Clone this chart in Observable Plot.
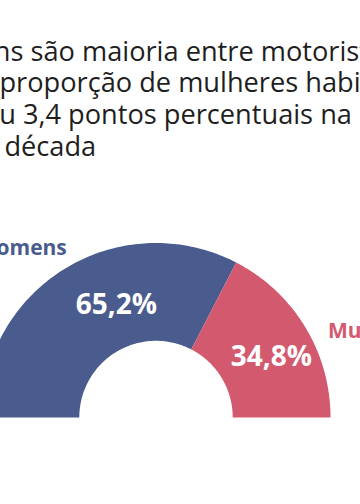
<!DOCTYPE html>
<html>
<head>
<meta charset="utf-8">
<script src="https://cdn.jsdelivr.net/npm/d3@7"></script>
<script src="https://cdn.jsdelivr.net/npm/@observablehq/plot@0.6"></script>
<style>
  html, body { margin: 0; padding: 0; background: #fff; width: 360px; height: 504px; overflow: hidden; position: relative; }
  #title { position: absolute; left: -83px; top: 34.6px; font-family: "Open Sans", sans-serif; font-size: 27.2px; line-height: 31.67px; color: #1e1e1e; white-space: nowrap; }
  #chart { position: absolute; left: 0; top: 200px; }
</style>
</head>
<body>
<div id="title"></div>
<div id="chart"></div>
<script>
const titleLines = [
  "Homens são maioria entre motoristas,",
  "mas a proporção de mulheres habilitadas",
  "já subiu 3,4 pontos percentuais na",
  "última década"
];
const categorias = ["Homens", "Mulheres"];
const percentuais = [65.2, 34.8];
const cores = ["#4a5b8e", "#d35a6e"];

document.getElementById("title").innerHTML = titleLines.join("<br>");

const R = 174.5, r0 = 76.7;
const total = d3.sum(percentuais);
let acc = 0;
const slices = categorias.map((c, i) => {
  const a0 = Math.PI - (acc / total) * Math.PI;
  acc += percentuais[i];
  const a1 = Math.PI - (acc / total) * Math.PI;
  return {cat: c, value: percentuais[i], a0, a1, mid: (a0 + a1) / 2};
});

const pts = [];
for (const s of slices) {
  const n = 120;
  for (let k = 0; k <= n; k++) {
    const a = s.a0 + (s.a1 - s.a0) * k / n;
    pts.push({cat: s.cat, x: R * Math.cos(a), y: R * Math.sin(a)});
  }
  for (let k = n; k >= 0; k--) {
    const a = s.a0 + (s.a1 - s.a0) * k / n;
    pts.push({cat: s.cat, x: r0 * Math.cos(a), y: r0 * Math.sin(a)});
  }
}

const rm = (R + r0) / 2;
const valLabels = slices.map(s => ({cat: s.cat, text: s.value.toFixed(1).replace(".", ",") + "%", x: rm * Math.cos(s.mid), y: rm * Math.sin(s.mid), left: s.mid > Math.PI / 2}));
const catLabels = slices.map(s => ({cat: s.cat, x: R * Math.cos(s.mid), y: R * Math.sin(s.mid), left: s.mid > Math.PI / 2}));

const chart = Plot.plot({
  width: 360,
  height: 260,
  margin: 0,
  style: {fontFamily: "Open Sans, sans-serif", background: "transparent"},
  x: {domain: [-155.5, 204.5], axis: null},
  y: {domain: [-43, 217], axis: null},
  color: {domain: categorias, range: cores},
  marks: [
    Plot.line(pts, {x: "x", y: "y", z: "cat", fill: "cat", stroke: null, curve: "linear"}),
    Plot.text(valLabels.filter(d => d.left), {x: "x", y: "y", text: "text", fill: "white", fontSize: 28, fontWeight: "bold", dx: 25.6, dy: -4.7}),
    Plot.text(valLabels.filter(d => !d.left), {x: "x", y: "y", text: "text", fill: "white", fontSize: 28, fontWeight: "bold", dx: 8, dy: 5}),
    Plot.text(catLabels.filter(d => d.left), {x: "x", y: "y", text: "cat", fill: "cat", fontSize: 21, fontWeight: "bold", textAnchor: "end", dx: 1.5, dy: -20}),
    Plot.text(catLabels.filter(d => !d.left), {x: "x", y: "y", text: "cat", fill: "cat", fontSize: 21, fontWeight: "bold", textAnchor: "start", dx: 23, dy: 4})
  ]
});
document.getElementById("chart").appendChild(chart);
</script>
</body>
</html>
